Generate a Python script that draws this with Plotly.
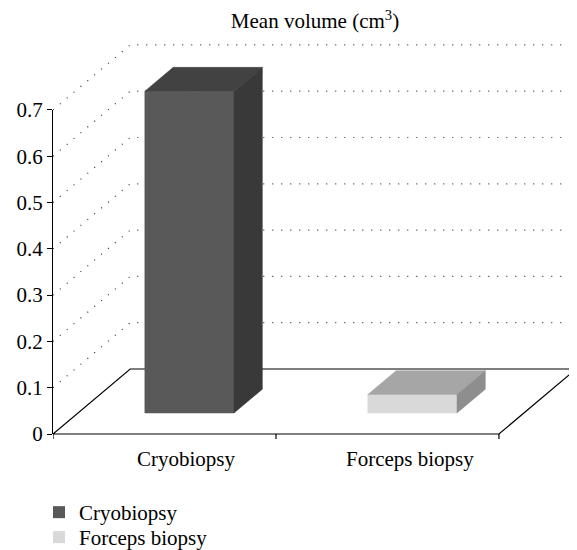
import plotly.graph_objects as go

# ---------------- data ----------------
categories = ["Cryobiopsy", "Forceps biopsy"]
values = [0.695, 0.04]
y_ticks = [0, 0.1, 0.2, 0.3, 0.4, 0.5, 0.6, 0.7]
front_colors = ["#595959", "#d9d9d9"]
top_colors = ["#424242", "#a6a6a6"]
side_colors = ["#393939", "#8e8e8e"]
title_text = "Mean volume (cm<sup>3</sup>)"

# ---------------- geometry / style ----------------
OFF = 8                           # page body margin of the html page
W, H = 577 - OFF, 550 - OFF
AXIS_X = 53 - OFF                 # value axis position
ZERO_Y = 434 - OFF                # baseline (front edge of the floor)
ML, MR, MT, MB = AXIS_X, 0, 22, H - ZERO_Y - 10
X_RANGE = [0, 2.35]
PX_X = (W - ML - MR) / (X_RANGE[1] - X_RANGE[0])
PX_Y = 463.0                      # pixels per value unit
Y0 = -((H - MB) - ZERO_Y) / PX_Y
Y1 = Y0 + (H - MT - MB) / PX_Y
DX = 77.2 / PX_X                  # oblique depth offset (x)
DY = 65.0 / PX_Y                  # oblique depth offset (y)
F0, F1 = 0.323, 0.69              # depth fractions of bars
HALF_W = 0.2
FONT = dict(family="Liberation Serif, Times New Roman, serif", size=21, color="black")
LEGEND_TOPS = [492 - OFF, 517 - OFF]
n = len(categories)


def proj(x, y, f):
    return x + f * DX, y + f * DY


def poly(points):
    xs, ys = [], []
    for (x, y, f) in points:
        px, py = proj(x, y, f)
        xs.append(px)
        ys.append(py)
    xs.append(xs[0])
    ys.append(ys[0])
    return xs, ys


def ypaper(v):
    return (v - Y0) / (Y1 - Y0)


fig = go.Figure()

# dotted gridlines: side diagonals + back wall
gx, gy = [], []
for t in y_ticks[1:]:
    for (x, f) in [(0, 0), (0, 1), (n, 1)]:
        px, py = proj(x, t, f)
        gx.append(px)
        gy.append(py)
    gx.append(None)
    gy.append(None)
fig.add_trace(go.Scatter(x=gx, y=gy, mode="lines", hoverinfo="skip", showlegend=False,
                         line=dict(color="#333333", width=1.2, dash="1px,8px")))

# floor outline
fx, fy = poly([(0, 0, 0), (n, 0, 0), (n, 0, 1), (0, 0, 1)])
fig.add_trace(go.Scatter(x=fx, y=fy, mode="lines", hoverinfo="skip", showlegend=False,
                         line=dict(color="black", width=1.2)))

# category tick marks
tx, ty = [], []
for i in range(n + 1):
    tx += [i, i, None]
    ty += [0, -5 / PX_Y, None]
fig.add_trace(go.Scatter(x=tx, y=ty, mode="lines", hoverinfo="skip", showlegend=False,
                         line=dict(color="black", width=1.2)))

# 3D bars
for i, (cat, v) in enumerate(zip(categories, values)):
    c = i + 0.5
    l, r = c - HALF_W, c + HALF_W
    faces = [
        ([(l, 0, F0), (r, 0, F0), (r, v, F0), (l, v, F0)], front_colors[i]),
        ([(l, v, F0), (r, v, F0), (r, v, F1), (l, v, F1)], top_colors[i]),
        ([(r, 0, F0), (r, 0, F1), (r, v, F1), (r, v, F0)], side_colors[i]),
    ]
    for pts, col in faces:
        xs, ys = poly(pts)
        fig.add_trace(go.Scatter(x=xs, y=ys, mode="lines", fill="toself", fillcolor=col,
                                 line=dict(color=col, width=0.5), hoverinfo="skip",
                                 showlegend=False, name=cat))

# legend entries (one legend per entry to control spacing)
legend_names = ["legend", "legend2"]
for k, (cat, col) in enumerate(zip(categories, front_colors)):
    fig.add_trace(go.Scatter(x=[None], y=[None], mode="markers", name=cat,
                             legend=legend_names[k],
                             marker=dict(symbol="square", size=12, color=col)))

# value axis carrier (y2)
fig.add_trace(go.Scatter(x=[None], y=[None], yaxis="y2", showlegend=False, hoverinfo="skip"))

# category labels
for i, cat in enumerate(categories):
    fig.add_annotation(x=i + 0.6, y=ypaper(-25 / PX_Y), xref="x", yref="paper", text=cat,
                       showarrow=False, font=FONT, xanchor="center", yanchor="middle")


def legend_cfg(top):
    return dict(x=(39 - OFF) / W, xref="container", y=1 - top / H, yref="container",
                xanchor="left", yanchor="top", font=FONT, bgcolor="rgba(0,0,0,0)",
                itemsizing="constant")


fig.update_layout(
    width=W, height=H,
    margin=dict(l=ML, r=MR, t=MT, b=MB, autoexpand=False),
    paper_bgcolor="white", plot_bgcolor="rgba(0,0,0,0)",
    font=FONT,
    title=dict(text=title_text, x=0.5, xref="paper", xanchor="center",
               y=1 - (21 - OFF) / H, yref="container", yanchor="middle", font=FONT),
    xaxis=dict(range=X_RANGE, visible=False, fixedrange=True),
    yaxis=dict(range=[Y0, Y1], visible=False, fixedrange=True),
    yaxis2=dict(domain=[ypaper(0), ypaper(y_ticks[-1])], range=[0, y_ticks[-1]],
                anchor="x", side="left", automargin=False,
                tickvals=y_ticks, ticks="outside", ticklen=5, tickcolor="black",
                tickwidth=1.2, showline=True, linecolor="black", linewidth=1.3,
                showgrid=False, zeroline=False, tickfont=FONT, fixedrange=True),
    showlegend=True,
    legend=legend_cfg(LEGEND_TOPS[0]),
    legend2=legend_cfg(LEGEND_TOPS[1]),
)

fig.write_html("out.html")
